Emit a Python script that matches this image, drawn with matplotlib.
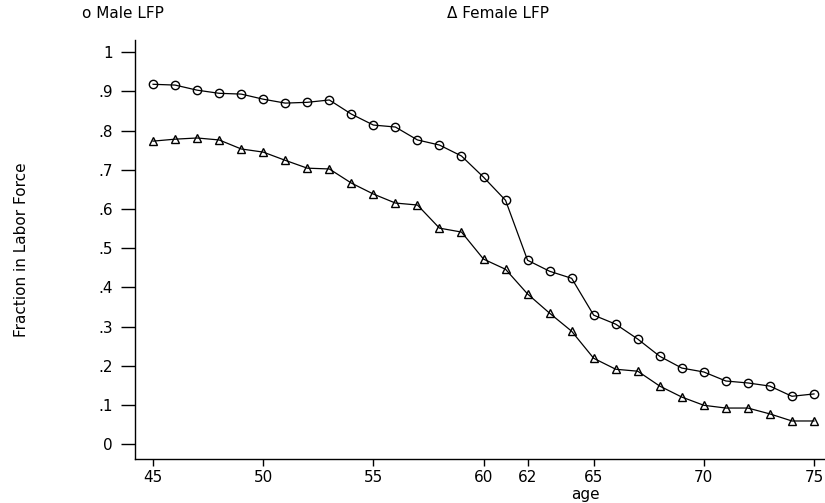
import numpy as np
import matplotlib
matplotlib.use("Agg")
import matplotlib.pyplot as plt

plt.rcParams['font.family'] = ['DejaVu Sans']

age = list(range(45, 76))
male_lfp = [0.918, 0.916, 0.903, 0.895, 0.893, 0.880, 0.870, 0.872, 0.878, 0.842,
            0.814, 0.809, 0.776, 0.763, 0.735, 0.681, 0.622, 0.469, 0.441, 0.423,
            0.329, 0.306, 0.268, 0.224, 0.194, 0.184, 0.161, 0.156, 0.148, 0.122, 0.128]
female_lfp = [0.773, 0.778, 0.781, 0.776, 0.753, 0.745, 0.724, 0.704, 0.702, 0.666,
              0.638, 0.615, 0.610, 0.551, 0.541, 0.472, 0.446, 0.383, 0.334, 0.288,
              0.219, 0.191, 0.186, 0.148, 0.120, 0.099, 0.092, 0.092, 0.077, 0.059, 0.059]
xticks = [45, 50, 55, 60, 62, 65, 70, 75]
yticks = [0, .1, .2, .3, .4, .5, .6, .7, .8, .9, 1]
ytick_labels = ["0", ".1", ".2", ".3", ".4", ".5", ".6", ".7", ".8", ".9", "1"]

fig = plt.figure(figsize=(8.25, 5.03), dpi=100)
# axes box in pixels: left 135, right 825, top 40, bottom 459
ax = fig.add_axes([135/825, 1-459/503, 690/825, 419/503])

ax.plot(age, male_lfp, color='k', linewidth=0.9, marker='o', markersize=6,
        markerfacecolor='none', markeredgecolor='k', markeredgewidth=1)
ax.plot(age, female_lfp, color='k', linewidth=0.9, marker='^', markersize=6,
        markerfacecolor='none', markeredgecolor='k', markeredgewidth=1)

ax.set_xlim(44.18, 75.5)
ax.set_ylim(-0.038, 1.031)
ax.spines['top'].set_visible(False)
ax.spines['right'].set_visible(False)
ax.spines['left'].set_linewidth(1)
ax.spines['bottom'].set_linewidth(1)

ax.set_xticks(xticks)
ax.set_xticklabels([str(t) for t in xticks])
ax.set_yticks(yticks)
ax.set_yticklabels(ytick_labels)
ax.tick_params(axis='y', direction='out', length=10, width=1, labelsize=11, pad=6)
ax.tick_params(axis='x', direction='out', length=5, width=1, labelsize=11, pad=3)

fig.text(22/825, 1-250/503, "Fraction in Labor Force", rotation=90,
         ha='center', va='center', fontsize=11)
fig.text(585/825, 1-494/503, "age", ha='center', va='center', fontsize=11)

fig.text(82/825, 1-14/503, "o Male LFP", ha='left', va='center', fontsize=11)
fig.text(447/825, 1-14/503, "\u0394 Female LFP", ha='left', va='center', fontsize=11)

fig.savefig("out.png", dpi=100)
